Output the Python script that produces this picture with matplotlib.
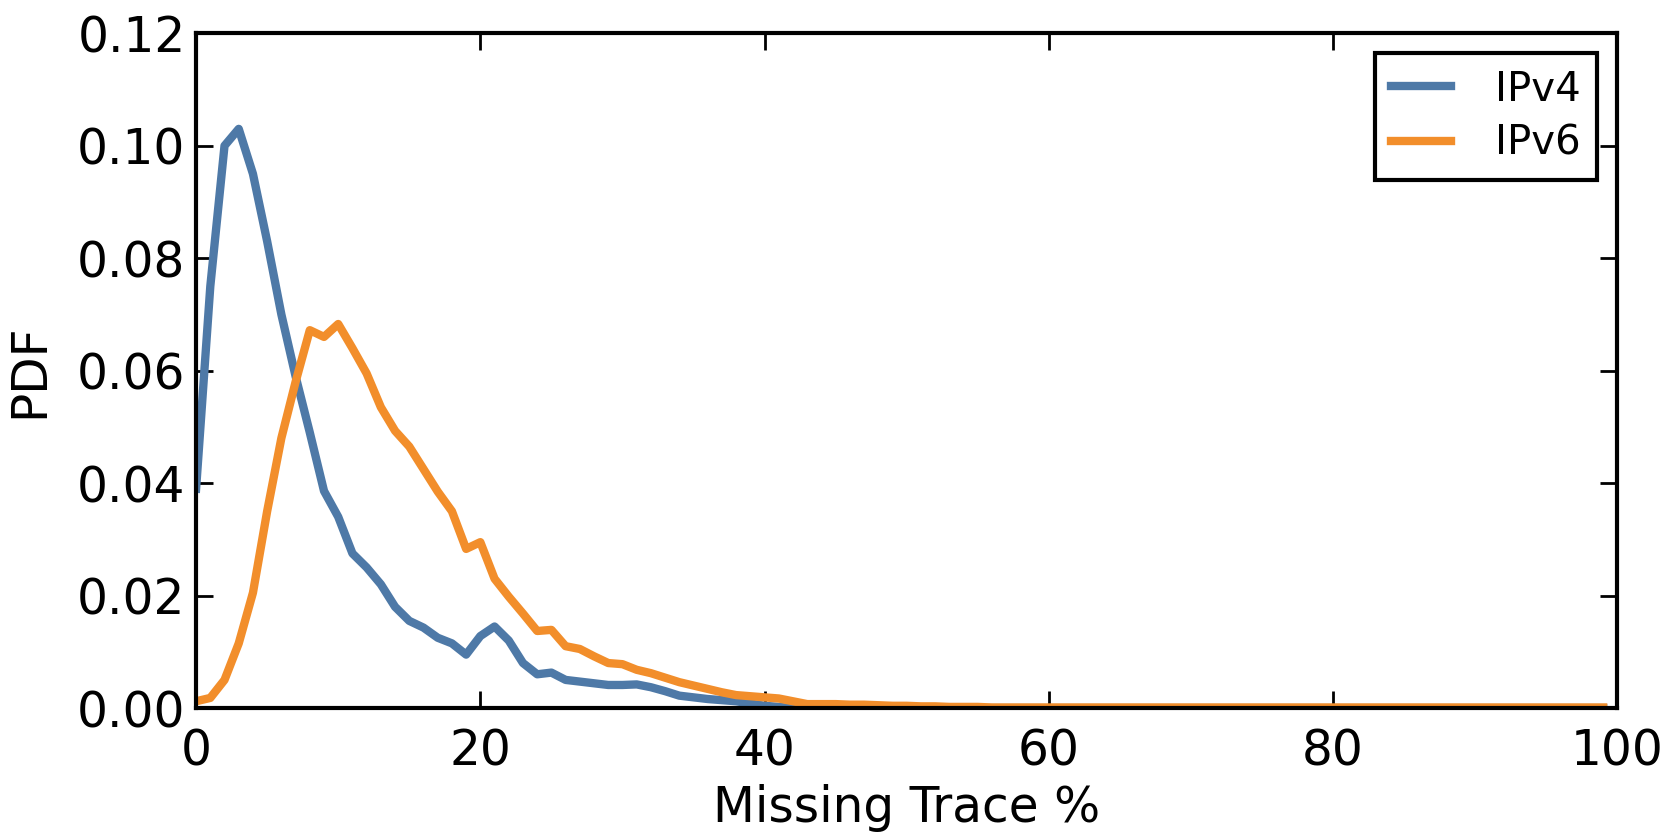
import numpy as np
import matplotlib
matplotlib.use("Agg")
import matplotlib.pyplot as plt

x = np.arange(100)

ipv4_head = [0.039, 0.075, 0.100, 0.103, 0.095, 0.083, 0.070, 0.059, 0.049, 0.0386,
             0.034, 0.0275, 0.025, 0.022, 0.018, 0.0155, 0.0143, 0.0125, 0.0115, 0.0095,
             0.0128, 0.0145, 0.012, 0.008, 0.006, 0.0063, 0.005, 0.0047, 0.0044, 0.0041,
             0.0041, 0.0042, 0.0037, 0.003, 0.0022, 0.0019, 0.0016, 0.0014, 0.0012, 0.0008,
             0.0004, 0.0002]
ipv4 = ipv4_head + [0.0] * (100 - len(ipv4_head))

ipv6_head = [0.0012, 0.0018, 0.005, 0.0115, 0.0205, 0.035, 0.048, 0.058, 0.0672, 0.066,
             0.0683, 0.064, 0.0595, 0.0535, 0.0493, 0.0465, 0.0425, 0.0385, 0.035, 0.0283,
             0.0295, 0.023, 0.0198, 0.0168, 0.0137, 0.0139, 0.011, 0.0105, 0.0092, 0.008,
             0.0078, 0.0068, 0.0062, 0.0054, 0.0046, 0.004, 0.0034, 0.0028, 0.0023, 0.0021,
             0.0019, 0.0017, 0.0012, 0.0007, 0.0007, 0.0007, 0.0006, 0.0006, 0.0005, 0.0004,
             0.0004, 0.0003, 0.0003, 0.0002, 0.0002, 0.0002]
ipv6 = ipv6_head + [0.0001] * (100 - len(ipv6_head))

plt.rcParams["font.family"] = "DejaVu Sans"

fig = plt.figure(figsize=(8.38, 4.16), dpi=200)
ax = fig.add_axes([0.117, 0.149, 0.848, 0.811])

ax.plot(x, ipv4, "-", lw=3, color="#4e79a7", label="IPv4")
ax.plot(x, ipv6, "-", lw=3, color="#f28e2b", label="IPv6")

ax.set_xlim(0, 100)
ax.set_ylim(0, 0.12)
ax.set_xticks([0, 20, 40, 60, 80, 100])
ax.set_yticks(np.arange(0, 0.121, 0.02))
ax.set_yticklabels([f"{v:.2f}" for v in np.arange(0, 0.121, 0.02)])
ax.tick_params(direction="in", top=True, right=True, length=6, width=1, labelsize=17.5)
ax.tick_params(axis="x", pad=7)
ax.tick_params(axis="y", pad=3.8)
for s in ax.spines.values():
    s.set_linewidth(1.5)

ax.set_xlabel("Missing Trace %", fontsize=17.5, labelpad=3)
ax.set_ylabel("PDF", fontsize=17.5, labelpad=8.6)

leg = ax.legend(loc="upper right", fontsize=14.5, fancybox=False, handlelength=1.5,
                handletextpad=1.1, borderpad=0.4, labelspacing=0.35, framealpha=1)
leg.get_frame().set_edgecolor("black")
leg.get_frame().set_linewidth(1.5)

fig.savefig("out.png", dpi=200)
